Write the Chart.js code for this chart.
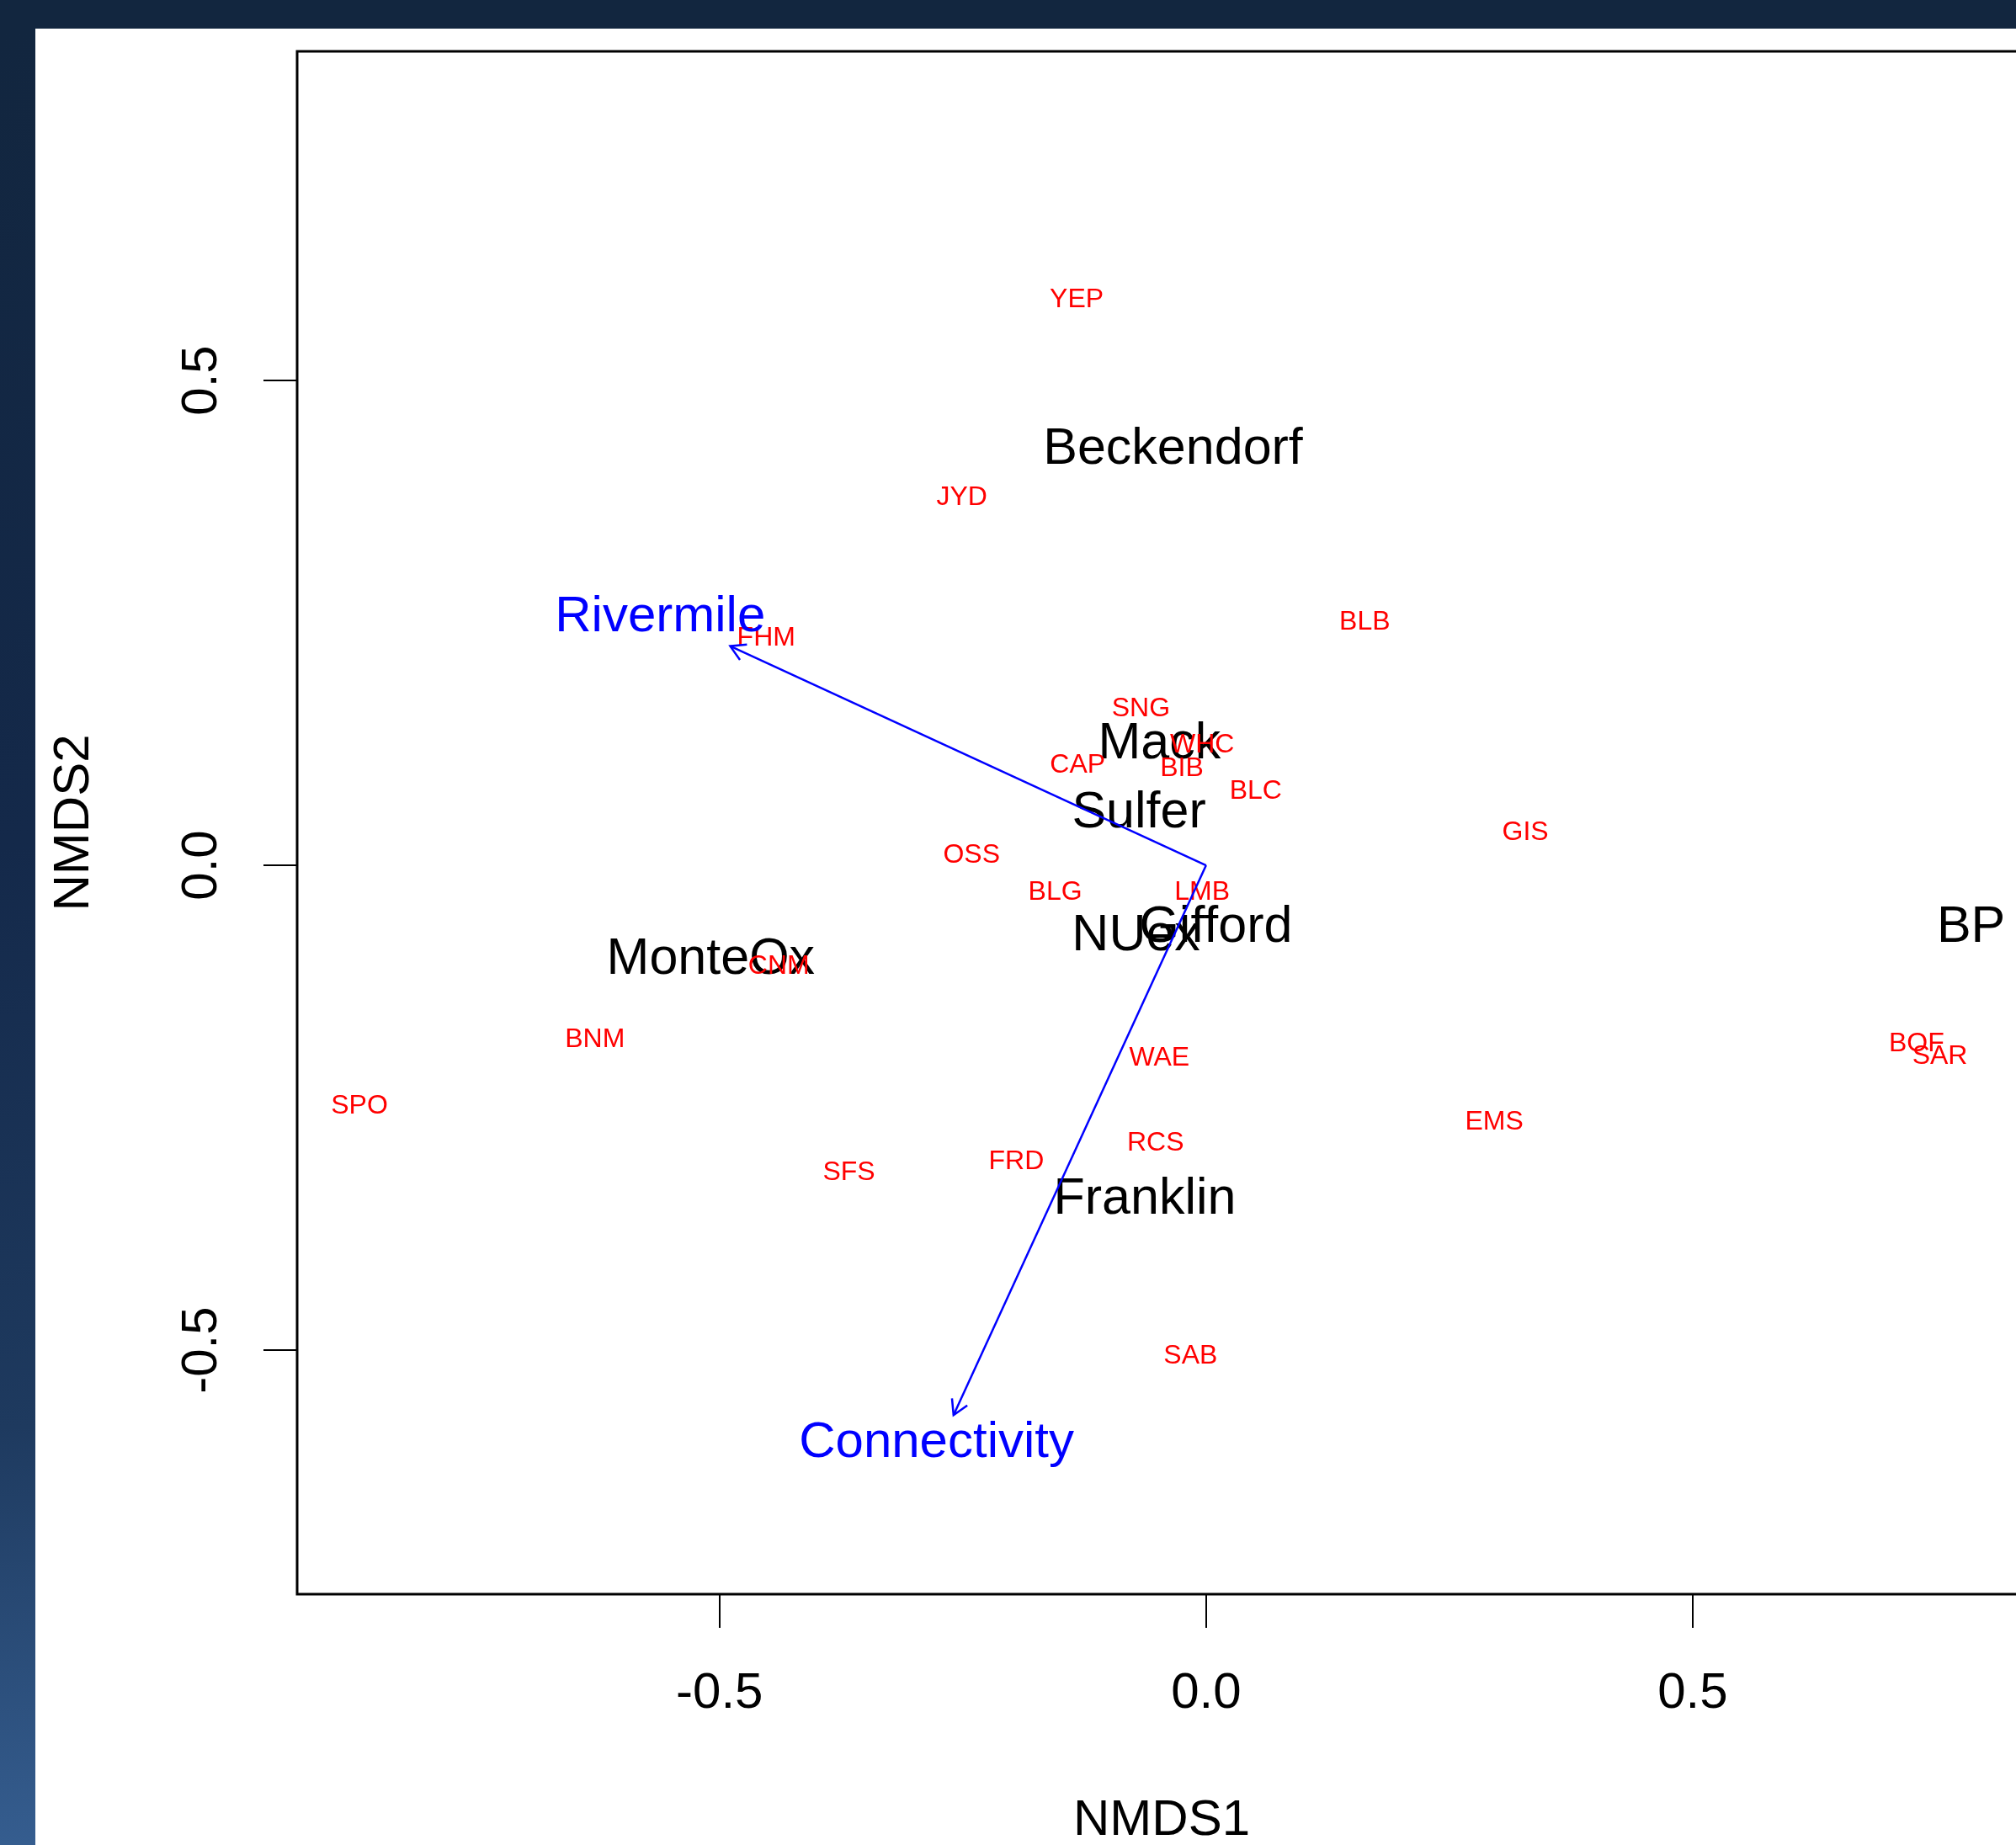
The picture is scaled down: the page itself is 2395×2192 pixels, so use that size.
<!DOCTYPE html>
<html>
<head>
<meta charset="utf-8">
<title>NMDS ordination</title>
<script src="https://cdn.jsdelivr.net/npm/chart.js@4.4.0/dist/chart.umd.min.js"></script>
<style>
  html, body { margin: 0; padding: 0; width: 2395px; height: 2192px; overflow: hidden; background: #12263f; }
  #sideband { position: absolute; left: 0; top: 34px; width: 42px; height: 2158px;
    background: linear-gradient(to bottom, #12263f 0%, #14294a 45%, #1e3a5f 77%, #355d8f 100%); }
  #panel { position: absolute; left: 42px; top: 34px; width: 2353px; height: 2158px; background: #ffffff; overflow: hidden; }
  #panel canvas { position: absolute; left: 0; top: 0; }
</style>
</head>
<body>
<div id="sideband"></div>
<div id="panel"><canvas id="nmds" width="2378" height="2200"></canvas></div>
<script>
// Site scores (NMDS1, NMDS2)
const siteNames = ['Beckendorf', 'Mack', 'Sulfer', 'MonteOx', 'NUex', 'Gifford', 'BP', 'Franklin'];
const siteX = [-0.034, -0.048, -0.069, -0.509, -0.072, 0.010, 0.786, -0.063];
const siteY = [0.429, 0.125, 0.054, -0.097, -0.073, -0.064, -0.064, -0.345];

// Species scores
const speciesNames = ['YEP', 'JYD', 'BLB', 'FHM', 'SNG', 'WHC', 'CAP', 'BIB', 'BLC', 'GIS', 'OSS', 'BLG',
  'LMB', 'CNM', 'BNM', 'SPO', 'WAE', 'BOF', 'SAR', 'EMS', 'RCS', 'FRD', 'SFS', 'SAB'];
const speciesX = [-0.133, -0.251, 0.163, -0.452, -0.067, -0.004, -0.132, -0.025, 0.051, 0.328, -0.241, -0.155,
  -0.004, -0.439, -0.628, -0.870, -0.048, 0.730, 0.754, 0.296, -0.052, -0.195, -0.367, -0.016];
const speciesY = [0.583, 0.379, 0.251, 0.234, 0.161, 0.124, 0.103, 0.100, 0.076, 0.034, 0.010, -0.028,
  -0.028, -0.104, -0.180, -0.248, -0.199, -0.184, -0.197, -0.265, -0.287, -0.306, -0.317, -0.506];

// Fitted environmental vectors (arrow tips) and their label positions
const vectorNames = ['Rivermile', 'Connectivity'];
const vectorX = [-0.489, -0.2595];
const vectorY = [0.226, -0.567];
const vectorLabelX = [-0.561, -0.277];
const vectorLabelY = [0.256, -0.5955];

// Axes
const xTicks = [-0.5, 0.0, 0.5];
const xTickLabels = ['-0.5', '0.0', '0.5'];
const yTicks = [-0.5, 0.0, 0.5];
const yTickLabels = ['-0.5', '0.0', '0.5'];
const xLimits = [-0.934, 0.8426];
const yLimits = [-0.7517, 0.8394];

const FONT = "'Liberation Sans', Arial, Helvetica, sans-serif";
const toPoints = (xs, ys) => xs.map((x, i) => ({ x: x, y: ys[i] }));

const datasets = [
  { type: 'scatter', role: 'sites', data: toPoints(siteX, siteY), labels: siteNames,
    pointRadius: 0, labelColor: '#000000', labelSize: 61 },
  { type: 'scatter', role: 'species', data: toPoints(speciesX, speciesY), labels: speciesNames,
    pointRadius: 0, labelColor: '#ff0000', labelSize: 32 },
  { type: 'scatter', role: 'vectorLabels', data: toPoints(vectorLabelX, vectorLabelY), labels: vectorNames,
    pointRadius: 0, labelColor: '#0000ff', labelSize: 60 }
];
vectorNames.forEach((name, i) => {
  datasets.push({ type: 'line', role: 'arrow', label: name,
    data: [{ x: 0, y: 0 }, { x: vectorX[i], y: vectorY[i] }],
    borderColor: '#0000ff', borderWidth: 2.5, pointRadius: 0, fill: false, tension: 0 });
});

function drawTextSet(chart, role) {
  const ctx = chart.ctx;
  chart.data.datasets.forEach((ds, di) => {
    if (ds.role !== role) return;
    const meta = chart.getDatasetMeta(di);
    ctx.save();
    ctx.fillStyle = ds.labelColor;
    ctx.font = ds.labelSize + 'px ' + FONT;
    ctx.textAlign = 'center';
    ctx.textBaseline = 'middle';
    meta.data.forEach((pt, i) => ctx.fillText(ds.labels[i], pt.x, pt.y));
    ctx.restore();
  });
}

const ordinationPlugin = {
  id: 'ordination',
  beforeDatasetsDraw(chart) {
    drawTextSet(chart, 'sites');
    drawTextSet(chart, 'species');
  },
  afterDatasetsDraw(chart) {
    const ctx = chart.ctx;
    // arrow heads on the fitted vectors
    chart.data.datasets.forEach((ds, di) => {
      if (ds.role !== 'arrow') return;
      const pts = chart.getDatasetMeta(di).data;
      const p0 = pts[0], p1 = pts[1];
      const ang = Math.atan2(p1.y - p0.y, p1.x - p0.x);
      const len = 20, spread = Math.PI / 6;
      ctx.save();
      ctx.strokeStyle = ds.borderColor;
      ctx.lineWidth = ds.borderWidth;
      ctx.beginPath();
      ctx.moveTo(p1.x - len * Math.cos(ang - spread), p1.y - len * Math.sin(ang - spread));
      ctx.lineTo(p1.x, p1.y);
      ctx.lineTo(p1.x - len * Math.cos(ang + spread), p1.y - len * Math.sin(ang + spread));
      ctx.stroke();
      ctx.restore();
    });
    drawTextSet(chart, 'vectorLabels');
  },
  afterDraw(chart) {
    const ctx = chart.ctx;
    const a = chart.chartArea;
    ctx.save();
    // plot frame
    ctx.strokeStyle = '#000000';
    ctx.lineWidth = 3;
    ctx.strokeRect(a.left, a.top, a.right - a.left, a.bottom - a.top);
    // tick labels
    ctx.fillStyle = '#000000';
    ctx.font = '60px ' + FONT;
    ctx.textAlign = 'center';
    ctx.textBaseline = 'middle';
    const sx = chart.scales.x, sy = chart.scales.y;
    sx.ticks.forEach((t, i) => ctx.fillText(xTickLabels[i], sx.getPixelForValue(t.value), a.bottom + 118));
    sy.ticks.forEach((t, i) => {
      ctx.save();
      ctx.translate(a.left - 113, sy.getPixelForValue(t.value));
      ctx.rotate(-Math.PI / 2);
      ctx.fillText(yTickLabels[i], 0, 0);
      ctx.restore();
    });
    ctx.restore();
  }
};

new Chart(document.getElementById('nmds'), {
  type: 'scatter',
  data: { datasets: datasets },
  plugins: [ordinationPlugin],
  options: {
    responsive: false,
    animation: false,
    devicePixelRatio: 1,
    events: [],
    layout: { padding: { top: 27, right: 13, left: 0, bottom: 0 } },
    plugins: { legend: { display: false }, tooltip: { enabled: false } },
    scales: {
      x: {
        type: 'linear', position: 'bottom', min: xLimits[0], max: xLimits[1],
        afterBuildTicks: s => { s.ticks = xTicks.map(v => ({ value: v })); },
        afterFit: s => { s.height = 340; },
        grid: { drawOnChartArea: false, drawTicks: true, tickLength: 40, color: '#000000', lineWidth: 2 },
        border: { display: false },
        ticks: { display: false },
        title: { display: true, text: 'NMDS1', color: '#000000',
          font: { family: FONT, size: 60, lineHeight: 1 }, padding: { top: 0, bottom: 41 } }
      },
      y: {
        type: 'linear', position: 'left', min: yLimits[0], max: yLimits[1],
        afterBuildTicks: s => { s.ticks = yTicks.map(v => ({ value: v })); },
        afterFit: s => { s.width = 311; },
        grid: { drawOnChartArea: false, drawTicks: true, tickLength: 40, color: '#000000', lineWidth: 2 },
        border: { display: false },
        ticks: { display: false },
        title: { display: true, text: 'NMDS2', color: '#000000',
          font: { family: FONT, size: 60, lineHeight: 1 }, padding: { top: 16, bottom: 0 } }
      }
    }
  }
});
</script>
</body>
</html>
